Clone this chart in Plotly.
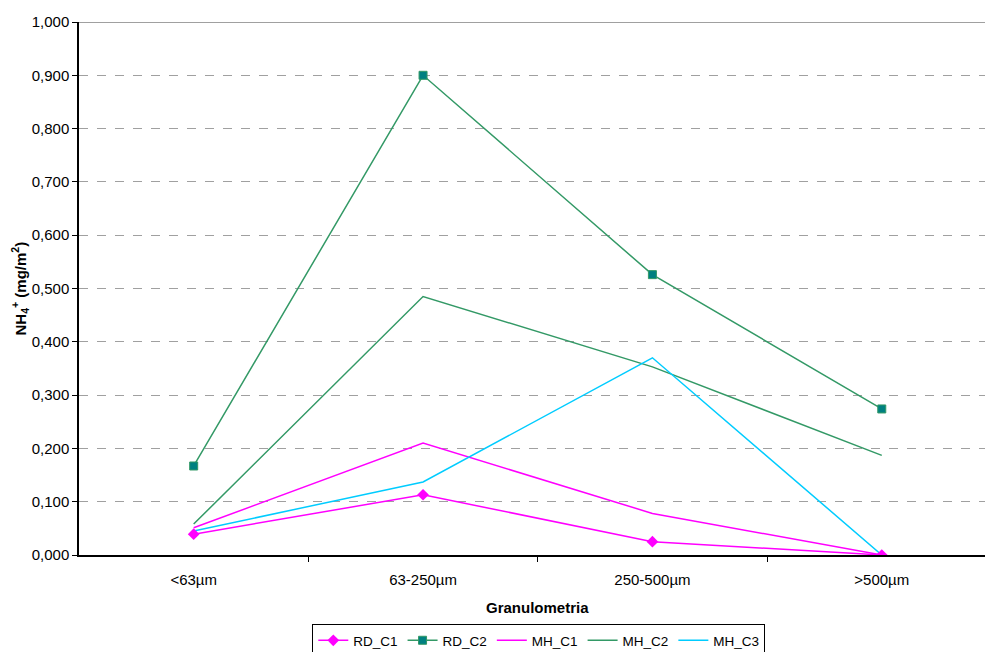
import plotly.graph_objects as go

categories = ["<63µm", "63-250µm", "250-500µm", ">500µm"]
RD_C1 = [0.039, 0.113, 0.025, 0.000]
RD_C2 = [0.167, 0.900, 0.526, 0.274]
MH_C1 = [0.051, 0.210, 0.078, 0.000]
MH_C2 = [0.058, 0.485, 0.353, 0.187]
MH_C3 = [0.045, 0.137, 0.370, 0.000]
y_ticks = [0.0, 0.1, 0.2, 0.3, 0.4, 0.5, 0.6, 0.7, 0.8, 0.9, 1.0]

xpos = list(range(len(categories)))
MAG = "#FF00FF"
GRN = "#339966"
CYA = "#00CCFF"

fig = go.Figure()
fig.add_trace(go.Scatter(x=xpos, y=MH_C1, name="MH_C1", mode="lines",
                         line=dict(color=MAG, width=1.5)))
fig.add_trace(go.Scatter(x=xpos, y=MH_C2, name="MH_C2", mode="lines",
                         line=dict(color=GRN, width=1.5)))
fig.add_trace(go.Scatter(x=xpos, y=MH_C3, name="MH_C3", mode="lines",
                         line=dict(color=CYA, width=1.5)))
fig.add_trace(go.Scatter(x=xpos, y=RD_C1, name="RD_C1", mode="lines+markers",
                         line=dict(color=MAG, width=1.5),
                         marker=dict(symbol="diamond", size=9, color=MAG)))
fig.add_trace(go.Scatter(x=xpos, y=RD_C2, name="RD_C2", mode="lines+markers",
                         line=dict(color=GRN, width=1.5),
                         marker=dict(symbol="square", size=8, color="#008080",
                                     line=dict(color=GRN, width=1))))

fig.update_layout(
    width=985, height=652,
    margin=dict(l=79, r=0, t=22, b=97),
    paper_bgcolor="white", plot_bgcolor="white",
    font=dict(family="Liberation Sans, Arial, sans-serif", size=15, color="black"),
    separators=",.",
    showlegend=True,
    legend=dict(orientation="h", traceorder="normal",
                xref="container", yref="container",
                x=0.547, xanchor="center", y=(652 - 624) / 652, yanchor="top",
                bordercolor="black", borderwidth=1, bgcolor="white",
                font=dict(size=13.5), itemwidth=30, tracegroupgap=0),
)
order = ["RD_C1", "RD_C2", "MH_C1", "MH_C2", "MH_C3"]
for tr in fig.data:
    tr.legendrank = order.index(tr.name) + 1

fig.update_xaxes(
    range=[-0.5, 3.45], tickmode="array", tickvals=xpos, ticktext=categories,
    ticks="", showgrid=False, zeroline=False,
    showline=True, linecolor="black", linewidth=1.5,
    ticklabelstandoff=10,
    minor=dict(tickmode="array", tickvals=[0.5, 1.5, 2.5], ticks="outside",
               ticklen=5, tickcolor="black", showgrid=False),
)
fig.update_yaxes(
    range=[0, 1.0], tickmode="array", tickvals=y_ticks, tickformat=".3f",
    ticks="outside", ticklen=5, tickcolor="black",
    showline=True, linecolor="black", linewidth=1.5,
    showgrid=True, gridcolor="#A0A0A0", griddash="dash", gridwidth=1,
    zeroline=False,
)
fig.add_shape(type="line", xref="paper", yref="y", x0=0, x1=1, y0=1.0, y1=1.0,
              line=dict(color="#808080", width=1.5))

fig.add_annotation(text="<b>NH<sub>4</sub><sup>+</sup> (mg/m<sup>2</sup>)</b>",
                   xref="paper", yref="paper", x=0, y=0.5, xshift=-59,
                   textangle=-90, showarrow=False, xanchor="center", yanchor="middle",
                   font=dict(size=15))
fig.add_annotation(text="<b>Granulometria</b>",
                   xref="paper", yref="paper", x=0.506, y=0, yshift=-52,
                   showarrow=False, xanchor="center", yanchor="middle",
                   font=dict(size=15))

fig.write_html("out.html", config={"displayModeBar": False},
               post_script="document.body.style.margin='0';")
